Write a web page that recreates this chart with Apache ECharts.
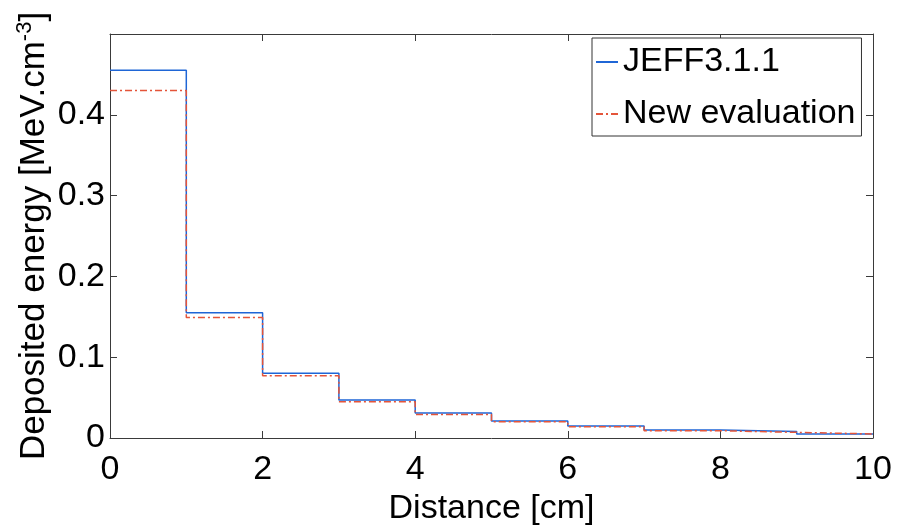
<!DOCTYPE html>
<html><head><meta charset="utf-8">
<script src="https://cdn.jsdelivr.net/npm/echarts@6/dist/echarts.min.js"></script>
<style>html,body{margin:0;padding:0;background:#fff}#c{width:898px;height:526px}</style>
</head><body><div id="c"></div>
<script>
// Bin edges (cm) and deposited energy per bin
const binEdges = [0,1,2,3,4,5,6,7,8,9,10];
const jeffValues = [0.455, 0.155, 0.080, 0.047, 0.031, 0.021, 0.015, 0.010, 0.008, 0.005];
const newEvalValues = [0.430, 0.149, 0.077, 0.045, 0.029, 0.020, 0.014, 0.009, 0.007, 0.005];
const seriesNames = ['JEFF3.1.1', 'New evaluation'];
const xTicks = [0,2,4,6,8,10];
const yTicks = [0,0.1,0.2,0.3,0.4];

function stepData(vals){
  const d = vals.map((v,i)=>[binEdges[i], v]);
  d.push([binEdges[binEdges.length-1], vals[vals.length-1]]);
  return d;
}
const FONT = '"Liberation Sans", Arial, sans-serif';
const axisCol = '#3a3a3a';
const chart = echarts.init(document.getElementById('c'), null, {renderer:'canvas'});
const yFmt = v => yTicks.some(t=>Math.abs(t-v)<1e-9) ? (v===0?'0':String(+v.toFixed(1))) : '';
const xFmt = v => xTicks.indexOf(v) >= 0 ? String(v) : '';
chart.setOption({
  animation:false,
  backgroundColor:'#fff',
  textStyle:{fontFamily:FONT},
  grid:{left:110, top:34, right:25, bottom:88, show:false, containLabel:false, outerBoundsMode:'none'},
  legend:{
    orient:'vertical', left:592, top:38,
    data:seriesNames.map(n=>({name:n})),
    backgroundColor:'#fff',
    borderColor:'#333', borderWidth:1, borderRadius:0,
    padding:[4,6,2,3], itemGap:12, itemWidth:22, itemHeight:14, itemTextGap:11,
    itemStyle:{opacity:0},
    textStyle:{fontFamily:FONT, fontSize:34, color:'#000', lineHeight:40}
  },
  xAxis:[{
    type:'value', min:0, max:10, interval:2,
    name:'Distance [cm]', nameLocation:'middle', nameGap:53,
    nameTextStyle:{fontFamily:FONT, fontSize:34, color:'#000'},
    axisLine:{show:true, onZero:false, lineStyle:{color:axisCol, width:1}},
    axisTick:{show:true, inside:true, length:7, lineStyle:{color:axisCol}},
    axisLabel:{fontFamily:FONT, fontSize:34, color:'#000', margin:15, formatter:xFmt},
    splitLine:{show:false}
  },{
    type:'value', min:0, max:10, interval:2, position:'top',
    axisLine:{show:true, onZero:false, lineStyle:{color:axisCol, width:1}},
    axisTick:{show:true, inside:true, length:7, lineStyle:{color:axisCol}},
    axisLabel:{show:false}, splitLine:{show:false}
  }],
  yAxis:[{
    type:'value', min:0, max:0.5, interval:0.1,
    name:'Deposited energy [MeV.cm{sup|-3}]', nameLocation:'middle', nameGap:56, nameRotate:90,
    nameMoveOverlap:false,
    nameTextStyle:{fontFamily:FONT, fontSize:35, color:'#000',
      rich:{sup:{fontFamily:FONT, fontSize:22, color:'#000', padding:[0,0,18,0]}}},
    axisLine:{show:true, onZero:false, lineStyle:{color:axisCol, width:1}},
    axisTick:{show:true, inside:true, length:7, lineStyle:{color:axisCol}},
    axisLabel:{fontFamily:FONT, fontSize:34, color:'#000', margin:5, padding:[10,0,0,0], formatter:yFmt},
    splitLine:{show:false}
  },{
    type:'value', min:0, max:0.5, interval:0.1, position:'right',
    axisLine:{show:true, onZero:false, lineStyle:{color:axisCol, width:1}},
    axisTick:{show:true, inside:true, length:7, lineStyle:{color:axisCol}},
    axisLabel:{show:false}, splitLine:{show:false}
  }],
  series:[{
    name:seriesNames[0], type:'line', step:'end', symbol:'none',
    data:stepData(jeffValues), xAxisIndex:0, yAxisIndex:0,
    itemStyle:{color:'#1f66d6'},
    lineStyle:{color:'#1f66d6', width:1.5}, z:2
  },{
    name:seriesNames[1], type:'line', step:'end', symbol:'none',
    data:stepData(newEvalValues), xAxisIndex:0, yAxisIndex:0,
    itemStyle:{color:'#e4553a'},
    lineStyle:{color:'#e4553a', width:1.5, type:[7,3,2,3]}, z:3
  }]
});
</script></body></html>
